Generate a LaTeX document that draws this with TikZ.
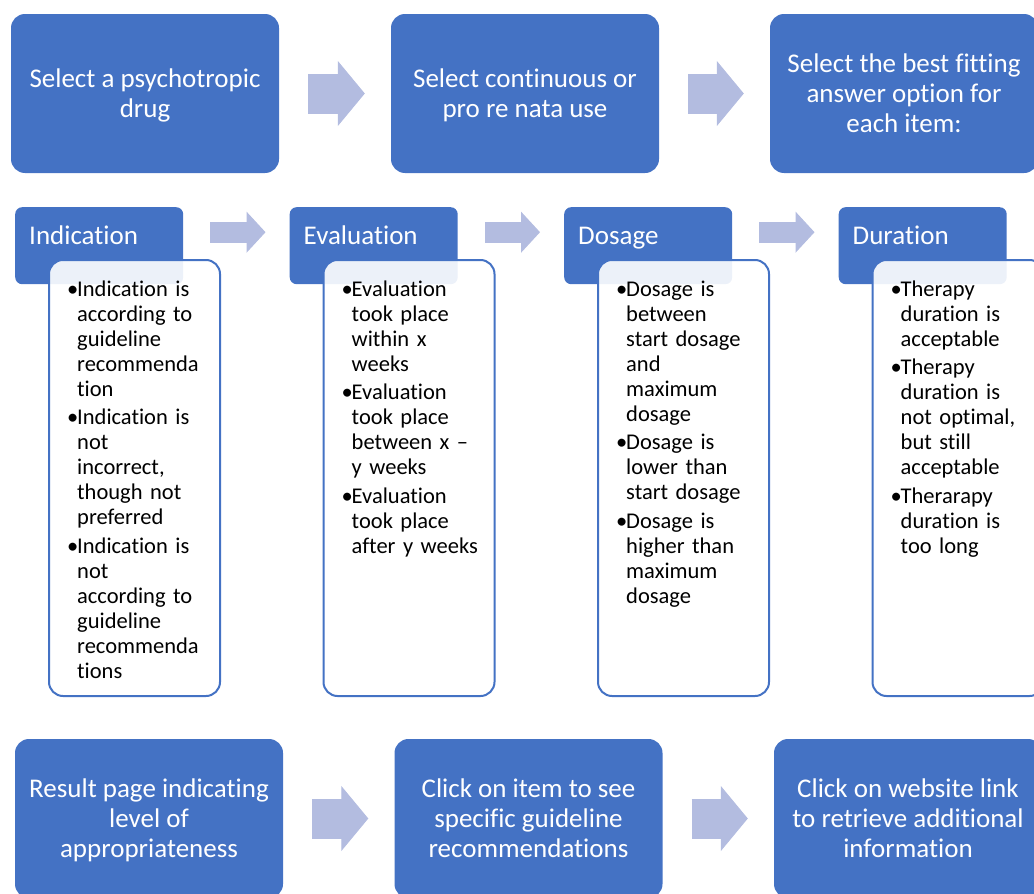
\documentclass[tikz,border=0pt]{standalone}
\usepackage{fontspec}
\setmainfont{Carlito}[Ligatures=NoCommon]
\usetikzlibrary{arrows.meta}
\definecolor{boxblue}{HTML}{4472C4}
\definecolor{arrowblue}{HTML}{B3BCE0}
\newcommand{\bul}{\hangindent=10pt\hangafter=1\makebox[10pt][l]{\textbullet}}
\tikzset{
  stepbox/.style={fill=boxblue, rounded corners=14pt, minimum width=268pt, minimum height=159pt,
    inner sep=0pt, text=white, align=center, text depth=1pt, font=\fontsize{27}{30}\selectfont},
  headbox/.style={fill=boxblue, rounded corners=7pt, minimum width=168pt, minimum height=77pt,
    inner sep=0pt, anchor=north west},
  headtext/.style={anchor=base west, inner sep=0pt, text=white, font=\fontsize{27}{30}\selectfont},
  listbox/.style={draw=boxblue, line width=2pt, fill=white, fill opacity=0.9, rounded corners=14pt,
    minimum width=171pt, minimum height=436pt, inner sep=0pt, anchor=north west},
  listtext/.style={anchor=base west, inner sep=0pt, text width=160pt, align=left,
    font=\fontsize{22.5}{25}\selectfont, execute at begin node={\setlength{\parskip}{3.5pt}}},
  bigarrow/.style={draw=arrowblue, line width=40pt, -{Triangle[length=27pt,width=65pt,line width=1pt]}},
  smallarrow/.style={draw=arrowblue, line width=21pt, -{Triangle[length=19pt,width=41pt,line width=1pt]}}
}
\begin{document}
\begin{tikzpicture}[x=1pt,y=-1pt]
\clip (0,0) rectangle (1034,894);
% top row
\node[stepbox] (s1) at (145,93.5) {Select a psychotropic\\drug};
\node[stepbox] (s2) at (525,93.5) {Select continuous or\\pro re nata use};
\node[stepbox] (s3) at (904,93.5) {Select the best fitting\\answer option for\\each item:};
% bottom row
\node[stepbox] (b1) at (149,818.5) {Result page indicating\\level of\\appropriateness};
\node[stepbox] (b2) at (528.5,818.5) {Click on item to see\\specific guideline\\recommendations};
\node[stepbox] (b3) at (908,818.5) {Click on website link\\to retrieve additional\\information};
\foreach \a/\b in {s1/s2,s2/s3,b1/b2,b2/b3} % block arrows
\draw[bigarrow] ([xshift=29pt]\a.east) -- ([xshift=-26pt]\b.west);

% middle row: headers, then the lists over them
\foreach \i/\x/\lbl in {1/15/Indication,2/289.5/Evaluation,3/564/Dosage,4/838.5/Duration}
{
\node[headbox] (h\i) at (\x,207) {};
\node[headtext] (t\i) at ([xshift=14pt,yshift=-37pt]h\i.north west) {\lbl};
}
\foreach \a/\b in {1/2,2/3,3/4}
\draw[smallarrow] ([xshift=27pt,yshift=13.5pt]h\a.east) -- ([xshift=-24pt,yshift=13.5pt]h\b.west);
\foreach \i in {1,2,3,4}
\node[listbox] (l\i) at ([xshift=33pt,yshift=-52pt]h\i.north west) {};

\node[listtext] (i1) at ([xshift=19pt,yshift=-37pt]l1.north west) {%
\bul Indication is\newline according to\newline guideline\newline recommenda\newline tion
\par\bul Indication is\newline not\newline incorrect,\newline though not\newline preferred
\par\bul Indication is\newline not\newline according to\newline guideline\newline recommenda\newline tions\par};
\node[listtext] (i2) at ([xshift=19pt,yshift=-37pt]l2.north west) {%
\bul Evaluation\newline took place\newline within x\newline weeks
\par\bul Evaluation\newline took place\newline between x \textendash\newline y weeks
\par\bul Evaluation\newline took place\newline after y weeks\par};
\node[listtext] (i3) at ([xshift=19pt,yshift=-37pt]l3.north west) {%
\bul Dosage is\newline between\newline start dosage\newline and\newline maximum\newline dosage
\par\bul Dosage is\newline lower than\newline start dosage
\par\bul Dosage is\newline higher than\newline maximum\newline dosage\par};
\node[listtext] (i4) at ([xshift=19pt,yshift=-37pt]l4.north west) {%
\bul Therapy\newline duration is\newline acceptable
\par\bul Therapy\newline duration is\newline not optimal,\newline but still\newline acceptable
\par\bul Therarapy\newline duration is\newline too long\par};
\end{tikzpicture}
\end{document}
